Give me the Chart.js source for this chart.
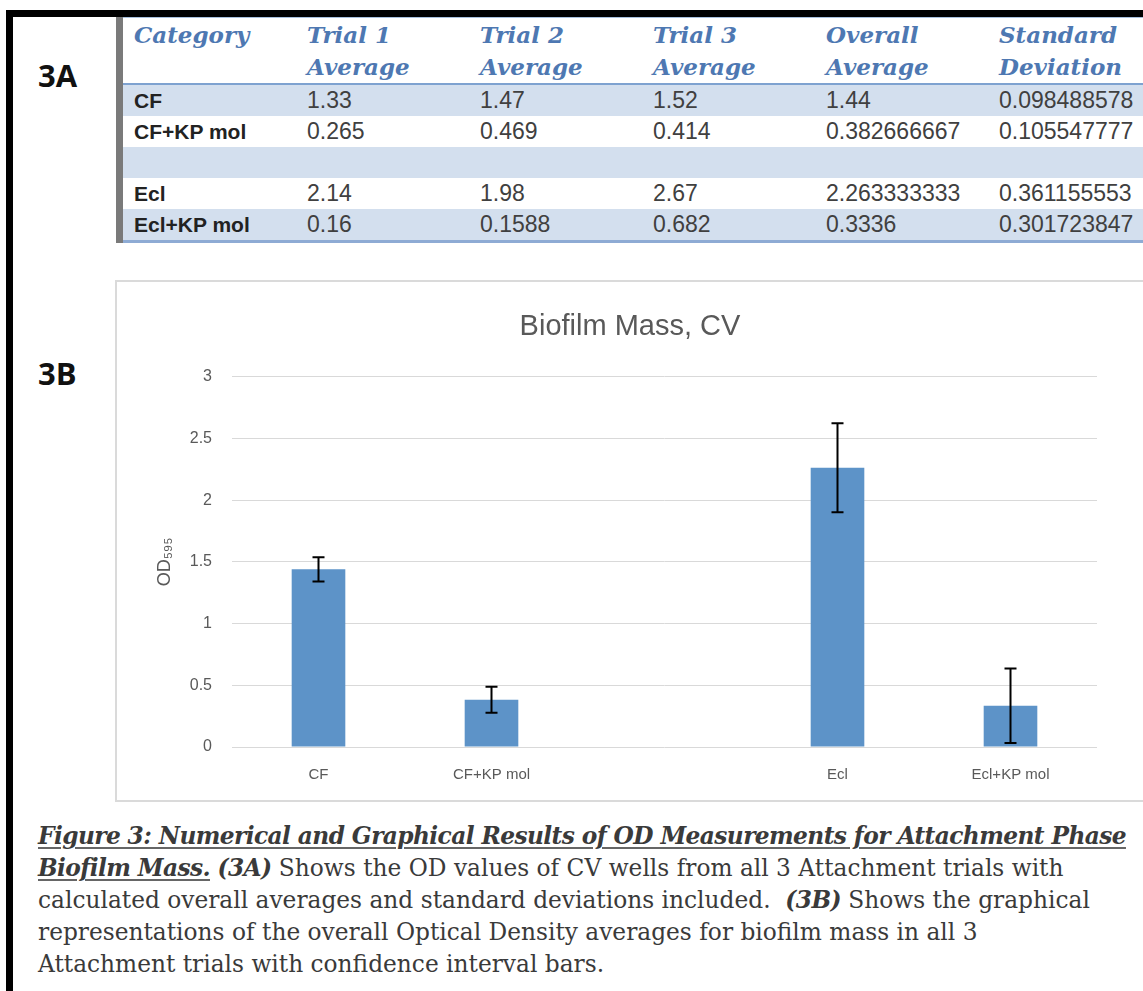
<!DOCTYPE html>
<html>
<head>
<meta charset="utf-8">
<script src="https://cdn.jsdelivr.net/npm/chart.js@4.4.0/dist/chart.umd.min.js"></script>
<style>
  html, body { margin: 0; padding: 0; background: #fff; overflow: hidden; width: 1143px; height: 991px; }
  .frame { position: absolute; left: 6px; top: 10px; width: 1200px; height: 1000px;
           border-top: 7px solid #000; border-left: 7px solid #000; }
  .lbl { position: absolute; left: 38px; font: bold 31px "Open Sans", "Liberation Sans", sans-serif; color: #111; }
  #tbl { position: absolute; left: 116px; top: 17px; border-collapse: collapse; table-layout: fixed; width: 1045px;
         border-left: 7px solid #7a7a7a; border-top: 1px solid #a7bfdc; border-bottom: 3px solid #8eabd4; }
  #tbl td, #tbl th { width: 162px; padding: 0 0 0 11px; text-align: left; vertical-align: top; white-space: nowrap; }
  #tbl th { font: bold italic 23px "DejaVu Serif", serif; color: #4e78b2; line-height: 32px; height: 64px;
            padding-top: 1px; border-bottom: 2px solid #7ea2d0; }
  #tbl td { font: 23px "Liberation Sans", sans-serif; color: #404040; height: 31px; line-height: 31px; }
  #tbl td.cat { font-weight: bold; font-size: 21px; color: #222; }
  #tbl tr.band td { background: #d3dfee; }
  .box { position: absolute; left: 115px; top: 280px; width: 1100px; height: 518px; border: 2px solid #dadada; }
  #wrap { position: absolute; left: 117px; top: 282px; }
  .cap { position: absolute; left: 38px; top: 820px; font: 23.3px "DejaVu Serif", serif; color: #3a3a3a;
         line-height: 32px; white-space: nowrap; }
  .cap b { font-style: italic; letter-spacing: -0.6px; }
  .cap u { text-decoration-thickness: 2px; text-underline-offset: 3px; text-decoration-color: #666; }
</style>
</head>
<body>
<div class="frame"></div>
<div class="lbl" style="top:54px">3A</div>
<div class="lbl" style="top:352px">3B</div>

<table id="tbl"></table>

<div class="box"></div>
<div id="wrap"><canvas id="myChart" width="1026" height="518"></canvas></div>

<div class="cap">
<b><u>Figure 3: Numerical and Graphical Results of OD Measurements for Attachment Phase</u></b><br>
<b><u>Biofilm Mass.</u> (3A)</b> Shows the OD values of CV wells from all 3 Attachment trials with<br>
calculated overall averages and standard deviations included.&nbsp; <b>(3B)</b> Shows the graphical<br>
representations of the overall Optical Density averages for biofilm mass in all 3<br>
Attachment trials with confidence interval bars.
</div>

<script>
// Data=======================================
var categories = ['CF', 'CF+KP mol', '', 'Ecl', 'Ecl+KP mol'];
var trial1 = ['1.33', '0.265', '', '2.14', '0.16'];
var trial2 = ['1.47', '0.469', '', '1.98', '0.1588'];
var trial3 = ['1.52', '0.414', '', '2.67', '0.682'];
var overallAvg = [1.44, 0.382666667, null, 2.263333333, 0.3336];
var stdDev = [0.098488578, 0.105547777, null, 0.361155553, 0.301723847];
var headers = ['Category', 'Trial 1<br>Average', 'Trial 2<br>Average', 'Trial 3<br>Average', 'Overall<br>Average', 'Standard<br>Deviation'];
var yTicks = [0, 0.5, 1, 1.5, 2, 2.5, 3];

// Table 3A===================================
var tbl = document.getElementById('tbl');
var html = '<tr>' + headers.map(function (h) { return '<th>' + h + '</th>'; }).join('') + '</tr>';
categories.forEach(function (c, i) {
  var band = (i % 2 === 0) ? ' class="band"' : '';
  var avg = overallAvg[i] === null ? '' : String(overallAvg[i]);
  var sd = stdDev[i] === null ? '' : String(stdDev[i]);
  html += '<tr' + band + '><td class="cat">' + c + '</td><td>' + trial1[i] + '</td><td>' + trial2[i] +
    '</td><td>' + trial3[i] + '</td><td>' + avg + '</td><td>' + sd + '</td></tr>';
});
tbl.innerHTML = html;

// Error bars (drawn through the chart's scales)
var errorBars = {
  id: 'errorBars',
  afterDatasetsDraw: function (chart) {
    var ctx = chart.ctx;
    var yScale = chart.scales.y;
    var meta = chart.getDatasetMeta(0);
    ctx.save();
    ctx.strokeStyle = '#000';
    ctx.lineWidth = 2;
    meta.data.forEach(function (bar, i) {
      if (overallAvg[i] === null) return;
      var top = yScale.getPixelForValue(overallAvg[i] + stdDev[i]);
      var bot = yScale.getPixelForValue(overallAvg[i] - stdDev[i]);
      var x = bar.x;
      ctx.beginPath();
      ctx.moveTo(x, top); ctx.lineTo(x, bot);
      ctx.moveTo(x - 6, top); ctx.lineTo(x + 6, top);
      ctx.moveTo(x - 6, bot); ctx.lineTo(x + 6, bot);
      ctx.stroke();
    });
    ctx.restore();
  }
};

// Chart 3B===================================
var data = {
  labels: categories,
  datasets: [
    {
      label: 'Overall Average',
      data: overallAvg,
      backgroundColor: '#5d93c8',
      barPercentage: 0.31,
      categoryPercentage: 1
    }
  ]
};

var config = {
  type: 'bar',
  data: data,
  options: {
    responsive: false,
    animation: false,
    devicePixelRatio: 1,
    layout: { padding: 0 },
    plugins: {
      legend: { display: false },
      tooltip: { enabled: false },
      title: {
        display: true,
        text: 'Biofilm Mass, CV',
        color: '#595959',
        font: { family: 'Liberation Sans', size: 29, weight: 'normal' },
        padding: { top: 28, bottom: 32 }
      }
    },
    scales: {
      x: {
        grid: { display: false, drawTicks: false },
        border: { display: false },
        ticks: { color: '#595959', font: { family: 'Liberation Sans', size: 15 }, padding: 19 },
        afterFit: function (s) { s.height = 53; }
      },
      y: {
        min: 0,
        max: 3,
        afterBuildTicks: function (s) { s.ticks = yTicks.map(function (v) { return { value: v }; }); },
        grid: { color: '#d9d9d9', lineWidth: 1, drawTicks: false },
        border: { display: false },
        ticks: {
          color: '#595959', font: { family: 'Liberation Sans', size: 16 }, padding: 20,
          callback: function (v) { return String(v); }
        },
        title: {
          display: true,
          text: 'OD₅₉₅',
          color: '#595959',
          font: { family: 'Liberation Sans', size: 18 },
          padding: { top: 37, bottom: 0 }
        },
        afterFit: function (s) { s.width = 115; }
      },
      // empty right axis, only keeps the plot's right margin
      y2: {
        position: 'right',
        grid: { display: false, drawTicks: false },
        border: { display: false },
        ticks: { display: false },
        afterFit: function (s) { s.width = 46; }
      }
    }
  },
  plugins: [errorBars]
};

var myChart = new Chart(document.getElementById('myChart'), config);
</script>
</body>
</html>
